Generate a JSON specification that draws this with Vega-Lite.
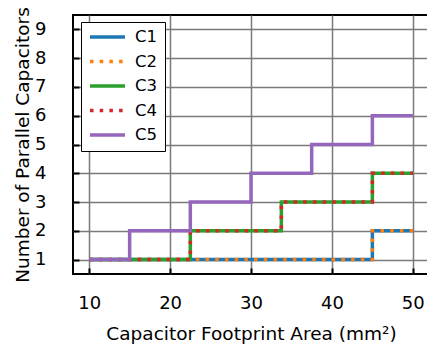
{
  "$schema": "https://vega.github.io/schema/vega-lite/v6.json",
  "width": 356,
  "height": 259,
  "autosize": {"type": "none"},
  "padding": {"left": 73, "top": 15, "right": 0, "bottom": 71},
  "background": "white",
  "config": {
    "font": "DejaVu Sans",
    "view": {"stroke": "black", "strokeWidth": 2},
    "axis": {
      "domain": false,
      "grid": true,
      "gridColor": "#7a7a7a",
      "gridWidth": 1.5,
      "ticks": true,
      "tickColor": "black",
      "tickSize": -6,
      "tickWidth": 2,
      "labelFontSize": 18,
      "labelColor": "black",
      "titleFontSize": 18.5,
      "titleFontWeight": "normal",
      "titleColor": "black"
    }
  },
  "data": {
    "values": [
      {"series": "C1", "area": 10, "n": 1},
      {"series": "C1", "area": 45, "n": 2},
      {"series": "C1", "area": 50, "n": 2},
      {"series": "C2", "area": 10, "n": 1},
      {"series": "C2", "area": 45, "n": 2},
      {"series": "C2", "area": 50, "n": 2},
      {"series": "C3", "area": 10, "n": 1},
      {"series": "C3", "area": 22.5, "n": 2},
      {"series": "C3", "area": 33.75, "n": 3},
      {"series": "C3", "area": 45, "n": 4},
      {"series": "C3", "area": 50, "n": 4},
      {"series": "C4", "area": 10, "n": 1},
      {"series": "C4", "area": 22.5, "n": 2},
      {"series": "C4", "area": 33.75, "n": 3},
      {"series": "C4", "area": 45, "n": 4},
      {"series": "C4", "area": 50, "n": 4},
      {"series": "C5", "area": 10, "n": 1},
      {"series": "C5", "area": 15, "n": 2},
      {"series": "C5", "area": 22.5, "n": 3},
      {"series": "C5", "area": 30, "n": 4},
      {"series": "C5", "area": 37.5, "n": 5},
      {"series": "C5", "area": 45, "n": 6},
      {"series": "C5", "area": 50, "n": 6}
    ]
  },
  "mark": {"type": "line", "interpolate": "step-after", "strokeWidth": 3.5, "strokeCap": "butt"},
  "encoding": {
    "x": {
      "field": "area",
      "type": "quantitative",
      "scale": {"domain": [8, 52], "nice": false, "zero": false},
      "axis": {"values": [10, 20, 30, 40, 50], "title": "Capacitor Footprint Area (mm²)", "labelPadding": 26, "titlePadding": 12}
    },
    "y": {
      "field": "n",
      "type": "quantitative",
      "scale": {"domain": [0.5, 9.5], "nice": false, "zero": false},
      "axis": {"values": [1, 2, 3, 4, 5, 6, 7, 8, 9], "title": "Number of Parallel Capacitors", "labelPadding": 33, "titlePadding": 2}
    },
    "color": {
      "field": "series",
      "type": "nominal",
      "scale": {"domain": ["C1", "C2", "C3", "C4", "C5"], "range": ["#1f77b4", "#ff7f0e", "#2ca02c", "#d62728", "#9467bd"]},
      "legend": {
        "title": null,
        "orient": "none",
        "legendX": 8,
        "legendY": 7,
        "symbolType": "stroke",
        "symbolSize": 1225,
        "symbolStrokeWidth": 3.5,
        "clipHeight": 16,
        "rowPadding": 7.5,
        "labelFontSize": 16.5,
        "labelColor": "black",
        "labelOffset": 8,
        "padding": 7,
        "strokeColor": "black",
        "fillColor": "white",
        "cornerRadius": 0
      }
    },
    "strokeDash": {
      "field": "series",
      "type": "nominal",
      "scale": {"domain": ["C1", "C2", "C3", "C4", "C5"], "range": [[1, 0], [3.5, 6.2], [1, 0], [3.5, 6.2], [1, 0]]},
      "legend": {
        "title": null,
        "orient": "none",
        "legendX": 8,
        "legendY": 7,
        "symbolType": "stroke",
        "symbolSize": 1225,
        "symbolStrokeWidth": 3.5,
        "clipHeight": 16,
        "rowPadding": 7.5,
        "labelFontSize": 16.5,
        "labelColor": "black",
        "labelOffset": 8,
        "padding": 7,
        "strokeColor": "black",
        "fillColor": "white",
        "cornerRadius": 0
      }
    }
  }
}
